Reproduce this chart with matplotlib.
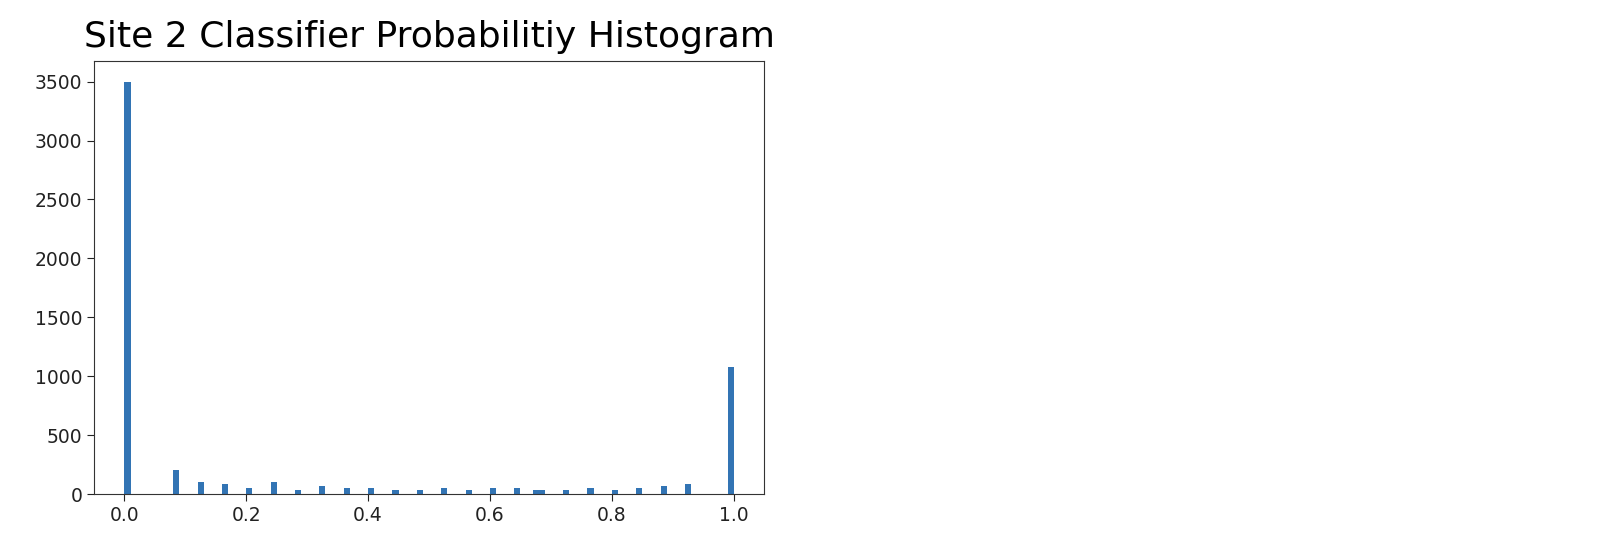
import numpy as np
import matplotlib
matplotlib.use("Agg")
import matplotlib.pyplot as plt

# Bin left edges (probability) and counts
bin_starts = [0.00, 0.08, 0.12, 0.16, 0.20, 0.24, 0.28, 0.32, 0.36, 0.40,
              0.44, 0.48, 0.52, 0.56, 0.60, 0.64, 0.67, 0.68, 0.72, 0.76,
              0.80, 0.84, 0.88, 0.92, 0.99]
counts = [3500, 205, 105, 87, 53, 105, 35, 70, 53, 53,
          35, 35, 53, 35, 53, 53, 35, 35, 35, 53,
          35, 53, 70, 87, 1075]
title = "Site 2 Classifier Probabilitiy Histogram"
x_ticks = [0.0, 0.2, 0.4, 0.6, 0.8, 1.0]
y_ticks = [0, 500, 1000, 1500, 2000, 2500, 3000, 3500]

fig = plt.figure(figsize=(16.12, 5.5), dpi=100)
ax = fig.add_axes([0.0583, 0.1018, 0.4157, 0.7872])

values = np.array(bin_starts) + 0.005
ax.hist(values, bins=100, range=(0, 1), weights=counts, color="#3274b4")

ax.set_xticks(x_ticks)
ax.set_yticks(y_ticks)
ax.tick_params(labelsize=13.5, length=5, colors="#222222")
for s in ax.spines.values():
    s.set_color("#333333")
ax.set_title(title, fontsize=26, pad=10)

fig.savefig("out.png", dpi=100)
